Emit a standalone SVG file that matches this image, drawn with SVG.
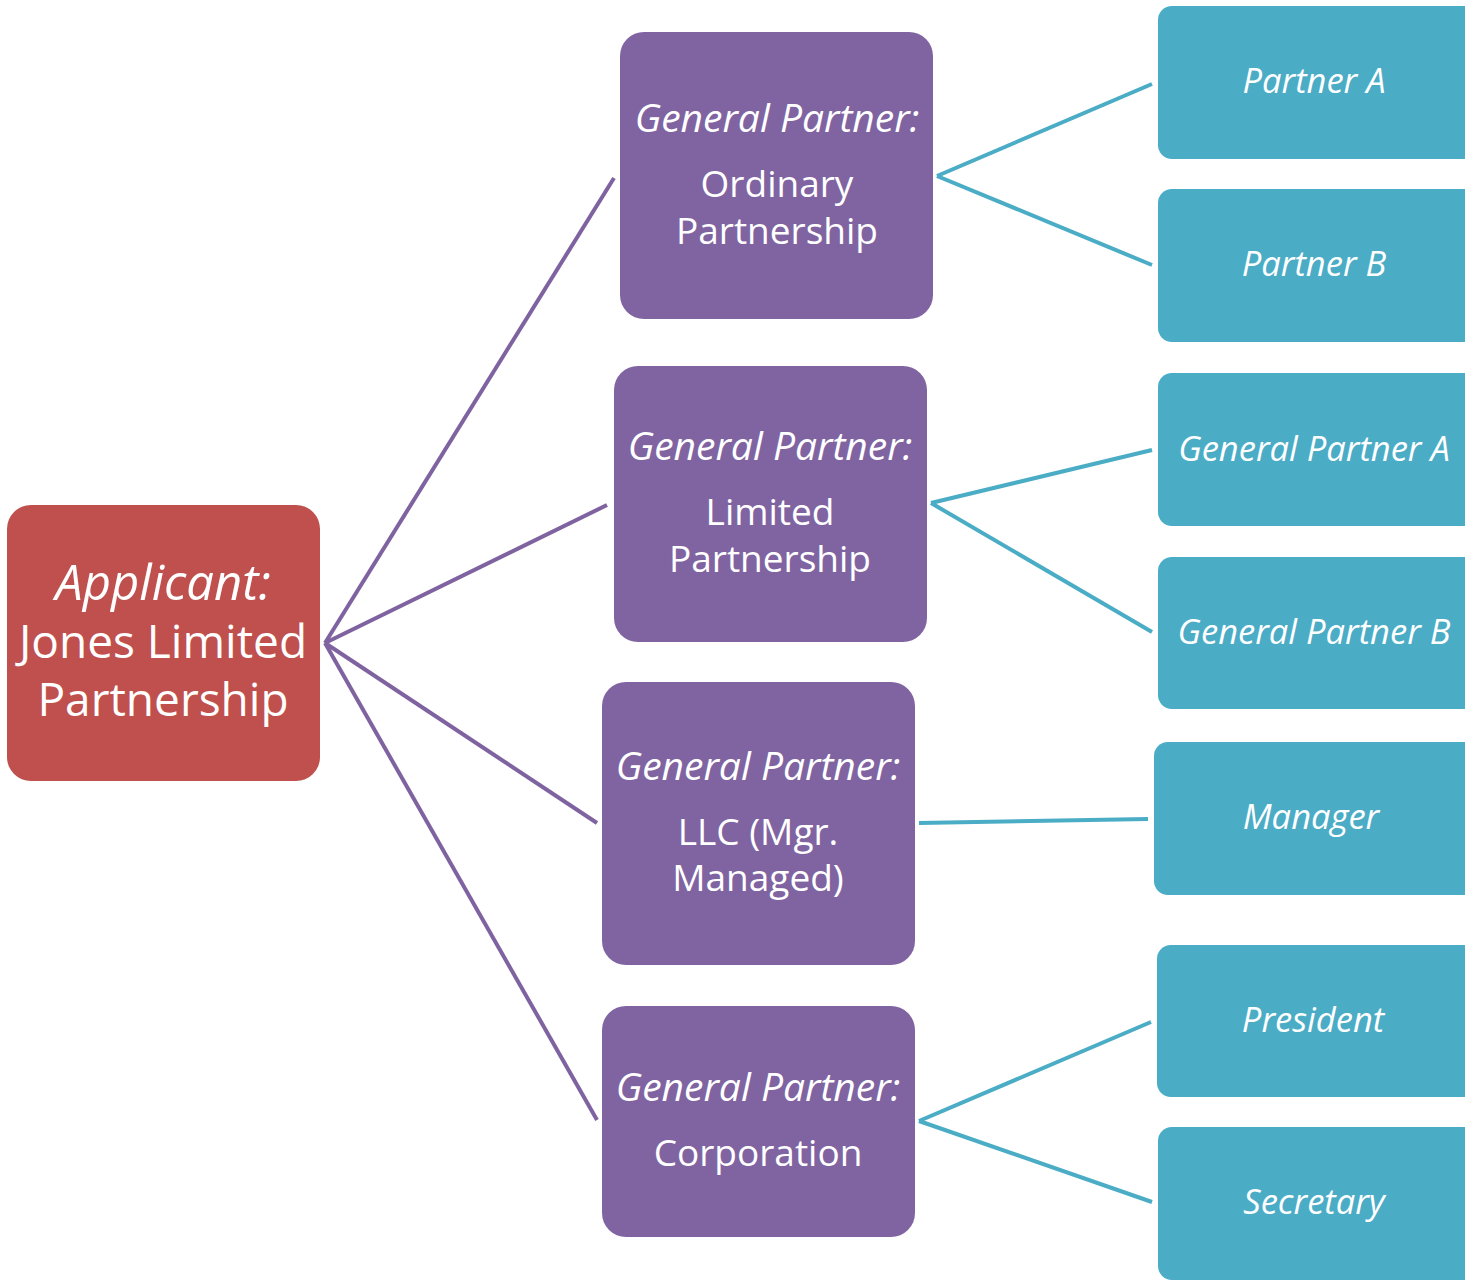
<svg xmlns="http://www.w3.org/2000/svg" width="1465" height="1280" viewBox="0 0 1465 1280">
  <style>
    text { font-family: "Open Sans", "Noto Sans", sans-serif; fill: #ffffff; text-anchor: middle; }
    .root { fill: #C0504D; }
    .mid { fill: #8064A2; }
    .leaf { fill: #4BACC6; }
    .cp { stroke: #7F63A1; stroke-width: 4; fill: none; }
    .ct { stroke: #4BACC6; stroke-width: 4; fill: none; }
    .h1 { font-size: 49px; font-style: italic; }
    .b1 { font-size: 46px; }
    .h2 { font-size: 39px; font-style: italic; }
    .b2 { font-size: 37px; }
    .h3 { font-size: 34.5px; font-style: italic; }
  </style>

  <g id="connectors">
    <line class="cp" x1="325" y1="643" x2="614" y2="178"/>
    <line class="cp" x1="325" y1="643" x2="607" y2="505"/>
    <line class="cp" x1="325" y1="643" x2="597" y2="823"/>
    <line class="cp" x1="325" y1="643" x2="597" y2="1120"/>
    <line class="ct" x1="937" y1="176" x2="1152" y2="84"/>
    <line class="ct" x1="937" y1="176" x2="1152" y2="265"/>
    <line class="ct" x1="931" y1="503" x2="1152" y2="450"/>
    <line class="ct" x1="931" y1="503" x2="1152" y2="632"/>
    <line class="ct" x1="919" y1="823" x2="1148" y2="819"/>
    <line class="ct" x1="919" y1="1121" x2="1151" y2="1022"/>
    <line class="ct" x1="919" y1="1121" x2="1152" y2="1202"/>
  </g>

  <g id="applicant">
    <rect class="root" x="7" y="505" width="313" height="276" rx="24"/>
    <text class="h1" x="163" y="600">Applicant:</text>
    <text class="b1" x="163" y="658">Jones Limited</text>
    <text class="b1" x="163" y="716">Partnership</text>
  </g>

  <g id="gp-ordinary">
    <rect class="mid" x="620" y="32" width="313" height="287" rx="24"/>
    <text class="h2" x="777" y="132">General Partner:</text>
    <text class="b2" x="777" y="197">Ordinary</text>
    <text class="b2" x="777" y="244">Partnership</text>
  </g>

  <g id="gp-limited">
    <rect class="mid" x="614" y="366" width="313" height="276" rx="24"/>
    <text class="h2" x="770" y="460">General Partner:</text>
    <text class="b2" x="770" y="525">Limited</text>
    <text class="b2" x="770" y="572">Partnership</text>
  </g>

  <g id="gp-llc">
    <rect class="mid" x="602" y="682" width="313" height="283" rx="24"/>
    <text class="h2" x="758" y="780">General Partner:</text>
    <text class="b2" x="758" y="845">LLC (Mgr.</text>
    <text class="b2" x="758" y="891">Managed)</text>
  </g>

  <g id="gp-corporation">
    <rect class="mid" x="602" y="1006" width="313" height="231" rx="24"/>
    <text class="h2" x="758" y="1101">General Partner:</text>
    <text class="b2" x="758" y="1166">Corporation</text>
  </g>

  <g id="partner-a">
    <rect class="leaf" x="1158" y="6" width="320" height="153" rx="14"/>
    <text class="h3" x="1314" y="93">Partner A</text>
  </g>
  <g id="partner-b">
    <rect class="leaf" x="1158" y="189" width="320" height="153" rx="14"/>
    <text class="h3" x="1314" y="276">Partner B</text>
  </g>
  <g id="general-partner-a">
    <rect class="leaf" x="1158" y="373" width="320" height="153" rx="14"/>
    <text class="h3" x="1314" y="461">General Partner A</text>
  </g>
  <g id="general-partner-b">
    <rect class="leaf" x="1158" y="557" width="320" height="152" rx="14"/>
    <text class="h3" x="1314" y="644">General Partner B</text>
  </g>
  <g id="manager">
    <rect class="leaf" x="1154" y="742" width="324" height="153" rx="14"/>
    <text class="h3" x="1311" y="829">Manager</text>
  </g>
  <g id="president">
    <rect class="leaf" x="1157" y="945" width="321" height="152" rx="14"/>
    <text class="h3" x="1313" y="1032">President</text>
  </g>
  <g id="secretary">
    <rect class="leaf" x="1158" y="1127" width="320" height="153" rx="14"/>
    <text class="h3" x="1314" y="1214">Secretary</text>
  </g>
</svg>
